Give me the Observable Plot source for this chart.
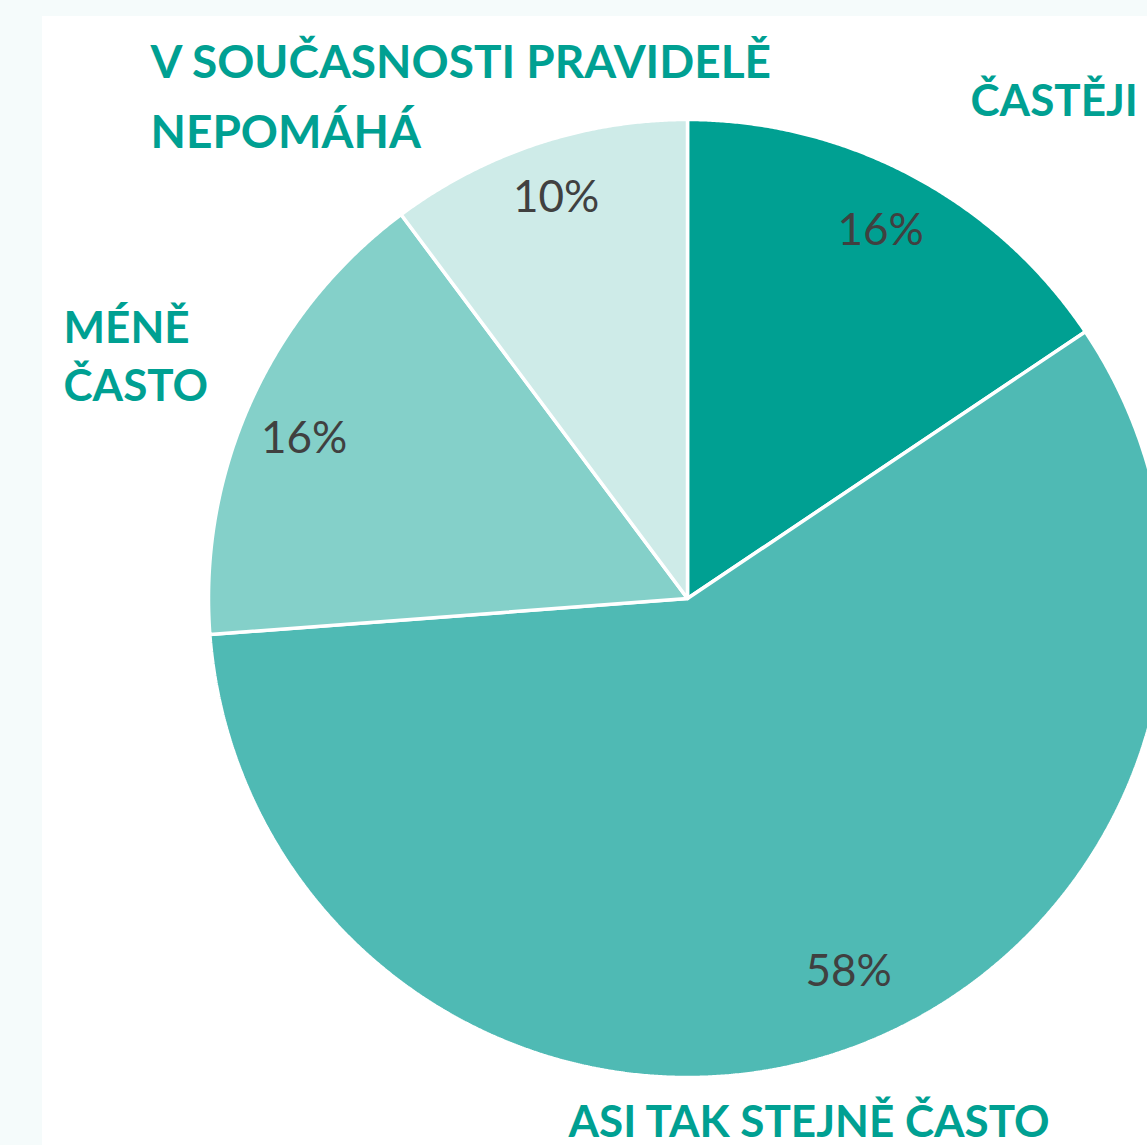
<!DOCTYPE html>
<html>
<head>
<meta charset="utf-8">
<script src="https://cdn.jsdelivr.net/npm/d3@7"></script>
<script src="https://cdn.jsdelivr.net/npm/@observablehq/plot@0.6"></script>
<style>
  html, body { margin: 0; padding: 0; background: #f5fbfb; overflow: hidden; }
  #panel { position: absolute; left: 42px; top: 16px; right: 0; bottom: 0; background: #ffffff; }
  #chart { position: absolute; left: 0; top: 0; }
  #chart svg { background: transparent; display: block; }
</style>
</head>
<body>
<div id="panel"></div>
<div id="chart"></div>
<script>
// ---- data ----
const categories = ["ČASTĚJI", "ASI TAK STEJNĚ ČASTO", "MÉNĚ ČASTO", "V SOUČASNOSTI PRAVIDELĚ NEPOMÁHÁ"];
const shares = [15.6, 58.2, 16.0, 10.2];           // slice sizes (%)
const shareLabels = ["16%", "58%", "16%", "10%"];   // printed labels
const sliceColors = ["#00a092", "#4fbab4", "#84d0c9", "#ceebe8"];

// ---- layout ----
const W = 1147, H = 1145;
const cx = 687, cy = 598, R = 479;
const labelR = 0.87;

const total = d3.sum(shares);
let acc = 0;
const slices = categories.map((c, i) => {
  const a0 = acc / total * 2 * Math.PI;
  acc += shares[i];
  const a1 = acc / total * 2 * Math.PI;
  return {category: c, a0, a1, label: shareLabels[i]};
});

// wedge outlines: center -> arc -> center
const wedgePts = [];
for (const s of slices) {
  wedgePts.push({category: s.category, x: cx, y: cy});
  const n = Math.max(2, Math.ceil((s.a1 - s.a0) / (Math.PI / 720)));
  for (let k = 0; k <= n; k++) {
    const a = s.a0 + (s.a1 - s.a0) * k / n;
    wedgePts.push({category: s.category, x: cx + R * Math.sin(a), y: cy - R * Math.cos(a)});
  }
  wedgePts.push({category: s.category, x: cx, y: cy});
}

// percentage labels at mid-angle (with small nudges)
const pctNudge = [[-3, 0], [25, -20], [-4, 13], [0, -5]];
const pctPts = slices.map((s, i) => {
  const a = (s.a0 + s.a1) / 2;
  return {label: s.label, x: cx + labelR * R * Math.sin(a) + pctNudge[i][0], y: cy - labelR * R * Math.cos(a) + pctNudge[i][1]};
});

// category labels (outside)
const catLayout = [
  {text: "ČASTĚJI", x: 970, y: 74, size: 44, lh: 1.32},
  {text: "ASI TAK STEJNĚ ČASTO", x: 568, y: 1095, size: 44, lh: 1.32},
  {text: "MÉNĚ\nČASTO", x: 63, y: 301, size: 44, lh: 1.32},
  {text: "V SOUČASNOSTI PRAVIDELĚ\nNEPOMÁHÁ", x: 150, y: 28, size: 46, lh: 1.52}
];

const font = "Lato, 'Open Sans', sans-serif";

const plot = Plot.plot({
  width: W,
  height: H,
  margin: 0,
  style: {background: "transparent", fontFamily: font},
  x: {domain: [0, W], range: [0, W], axis: null},
  y: {domain: [0, H], range: [0, H], axis: null},
  color: {domain: categories, range: sliceColors},
  marks: [
    Plot.line(wedgePts, {x: "x", y: "y", z: "category", fill: "category", stroke: "#ffffff", strokeWidth: 3.5, strokeLinejoin: "miter", curve: "linear"}),
    Plot.text(pctPts, {x: "x", y: "y", text: "label", fill: "#404040", fontSize: 44, fontFamily: font, textAnchor: "middle", lineAnchor: "middle"}),
    ...catLayout.map(d => Plot.text([d], {x: "x", y: "y", text: "text", fill: "#00a092", fontSize: d.size, fontWeight: "bold", fontFamily: font, textAnchor: "start", lineAnchor: "top", lineHeight: d.lh}))
  ]
});
document.getElementById("chart").appendChild(plot);
</script>
</body>
</html>
